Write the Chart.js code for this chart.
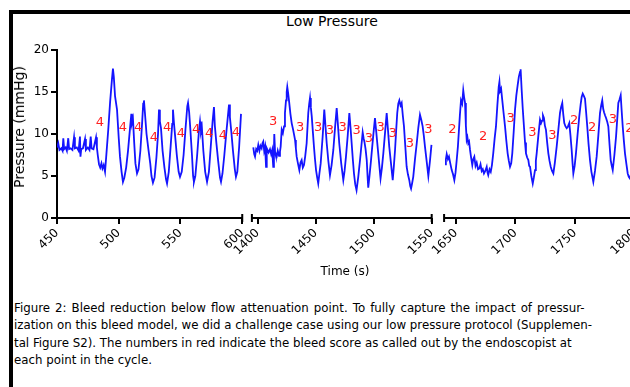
<!DOCTYPE html>
<html>
<head>
<meta charset="utf-8">
<script src="https://cdn.jsdelivr.net/npm/chart.js@4.4.0/dist/chart.umd.min.js"></script>
<style>
  html, body { margin: 0; padding: 0; background: #fff; }
  body { width: 630px; height: 387px; overflow: hidden; position: relative; font-family: "DejaVu Sans", sans-serif; color: #000; }
  #frame { position: absolute; left: 9px; top: 10px; width: 640px; height: 400px; border-top: 4px solid #000; border-left: 4px solid #000; }
  #title { position: absolute; left: 0; width: 664px; top: 13px; text-align: center; font-size: 14px; line-height: 16px; }
  #chartBox { position: absolute; left: 0; top: 0; }
  #yTitle { position: absolute; left: 19px; top: 127px; transform: translate(-50%, -50%) rotate(-90deg); font-size: 14px; line-height: 16px; white-space: nowrap; }
  #xTitle { position: absolute; left: 245px; width: 200px; top: 263px; text-align: center; font-size: 12px; line-height: 16px; }
  #caption { position: absolute; left: 14px; top: 300px; font-size: 11.8px; line-height: 17.3px; white-space: nowrap; }
  #caption span { display: block; }
  #caption .wide { word-spacing: 1.3px; }
</style>
</head>
<body>
<div id="frame"></div>
<div id="title">Low Pressure</div>
<div id="chartBox"><canvas id="chart" width="660" height="300"></canvas></div>
<div id="yTitle">Pressure (mmHg)</div>
<div id="xTitle">Time (s)</div>
<div id="caption"><span class="wide">Figure 2: Bleed reduction below flow attenuation point. To fully capture the impact of pressur-</span><span>ization on this bleed model, we did a challenge case using our low pressure protocol (Supplemen-</span><span>tal Figure S2). The numbers in red indicate the bleed score as called out by the endoscopist at</span><span>each point in the cycle.</span></div>

<script>
// pressure trace, [time (s), pressure (mmHg)], one list per axis segment
const seg1Trace = [
  [450, 8.4], [451, 8.9], [452, 8.1], [453.5, 8.3], [454.5, 8.0], [455.1, 9.5], [455.8, 8.2], [457, 8.4],
  [458, 8.0], [459.1, 9.5], [459.8, 8.2], [461, 8.3], [462.5, 8.1], [463.8, 9.6], [464.5, 8.3], [466, 8.4],
  [467.5, 8.0], [468.6, 9.7], [469, 7.3], [469.6, 8.2], [471, 8.3], [472.7, 9.4], [473.4, 8.1], [475, 8.4],
  [476.3, 8.1], [477.3, 9.7], [478, 8.3], [479.5, 8.2], [481.6, 9.6], [482.3, 8.4], [483, 7.5], [484, 6.4],
  [485, 6.0], [486, 6.5], [486.8, 5.9], [487.8, 6.3], [488.9, 5.5], [490, 7.6], [491.5, 10.5], [493, 13.8],
  [494.5, 16.5], [495.3, 17.8], [496, 16.8], [497, 14.5], [498.6, 12.9], [500, 9.5], [501, 7.3], [502.3, 5.5],
  [503.4, 4.3], [504.5, 4.8], [506, 6.0], [507.5, 8.0], [509, 10.5], [510.2, 12.4], [510.7, 11.3], [511.5, 11.8],
  [512.5, 9.0], [513.5, 6.5], [514.8, 5.3], [516, 5.8], [517.5, 8.0], [519, 11.5], [519.8, 13.6], [520.4, 14.0],
  [521.2, 12.5], [522.5, 10.0], [524, 8.2], [525.5, 6.5], [526.5, 5.0], [527.7, 4.2], [529, 4.8], [530.5, 7.2],
  [531.8, 10.0], [532.6, 12.9], [533.3, 11.5], [534.2, 10.7], [535.5, 8.0], [537, 6.0], [538.3, 4.6], [539.1, 4.1],
  [540.5, 5.5], [542, 8.5], [543.3, 11.2], [543.9, 12.9], [544.7, 11.3], [545.8, 9.5], [547, 7.5], [548.5, 5.5],
  [549.6, 4.9], [551, 5.5], [552.5, 7.5], [554, 10.5], [555.5, 13.3], [556.1, 13.7], [557, 12.6], [558, 10.5],
  [559.3, 7.5], [560.2, 5.0], [560.9, 4.3], [562, 5.0], [563.5, 7.5], [565, 10.5], [565.8, 11.5], [566.6, 10.3],
  [567.3, 10.8], [568.5, 8.0], [570, 5.5], [571.5, 4.3], [573, 5.5], [574.5, 8.5], [576, 11.5], [577.1, 13.2],
  [577.8, 11.0], [579, 9.0], [580.5, 6.8], [582, 4.8], [582.8, 4.3], [584, 5.3], [585.5, 7.5], [587, 10.0],
  [588.5, 12.3], [589.3, 13.5], [590, 12.0], [591.2, 10.2], [592.5, 8.0], [594, 5.8], [594.9, 4.9], [596, 5.5],
  [597.5, 8.5], [599, 12.4]
];

const seg2Trace = [
  [1396.2, 8.4], [1397, 7.6], [1397.7, 7.3], [1398.7, 8.2], [1399.6, 8.0], [1400.5, 8.7], [1401.5, 8.0], [1402.4, 8.6],
  [1403.4, 8.3], [1404.1, 8.9], [1404.8, 9.1], [1405.6, 8.0], [1406.4, 8.5], [1407.2, 6.1], [1407.8, 8.3], [1409.4, 7.8],
  [1410.6, 8.2], [1411.6, 7.6], [1412.5, 8.1], [1413.4, 6.1], [1414.0, 8.0], [1414.3, 10.0], [1415.0, 7.8], [1415.7, 7.4],
  [1416.4, 7.3], [1417.3, 8.0], [1418.4, 7.4], [1419.2, 7.9], [1419.8, 8.5], [1420.7, 10.5], [1421.7, 10.1], [1422.7, 10.9],
  [1423.5, 12.5], [1424.4, 14.0], [1425.0, 15.0], [1425.5, 15.6], [1426.3, 14.8], [1427.2, 13.7], [1428.2, 12.4], [1429.3, 11.3],
  [1430.7, 10.4], [1432.2, 9.3], [1432.9, 8.3], [1433.6, 7.3], [1434.7, 6.5], [1435.9, 5.7], [1436.9, 6.6], [1437.9, 6.9],
  [1438.9, 6.0], [1439.9, 6.3], [1441.0, 7.4], [1442.2, 8.9], [1443.0, 11.0], [1443.6, 12.5], [1444.4, 13.6], [1445.1, 14.3],
  [1445.8, 13.2], [1446.6, 12.1], [1447.6, 10.2], [1448.5, 8.5], [1449.4, 7.0], [1450.3, 5.7], [1451.3, 4.8], [1452.2, 4.1],
  [1453.2, 5.3], [1454.3, 6.5], [1455.1, 8.0], [1456.0, 9.7], [1456.8, 11.5], [1457.4, 12.9], [1458.4, 11.0], [1459.5, 8.9],
  [1460.9, 6.8], [1462.3, 5.1], [1463.7, 6.3], [1465.2, 8.1], [1466.7, 10.8], [1468.1, 13.1], [1469.1, 11.2], [1470.3, 8.9],
  [1472.0, 6.5], [1473.8, 4.5], [1474.9, 5.6], [1476.1, 7.3], [1477.6, 9.8], [1479.0, 12.5], [1480.0, 10.8], [1481.0, 8.9],
  [1482.0, 7.0], [1483.0, 5.3], [1484.1, 4.0], [1485.2, 3.3], [1486.7, 4.9], [1488.2, 6.9], [1489.4, 8.6], [1490.5, 10.2],
  [1491.3, 9.5], [1492.1, 9.0], [1493.0, 8.2], [1494.0, 6.9], [1494.7, 5.0], [1495.3, 3.6], [1496.5, 5.2], [1497.7, 6.9],
  [1499.4, 9.5], [1501.1, 11.9], [1502.1, 10.4], [1503.1, 8.9], [1504.5, 6.8], [1505.9, 4.7], [1507.1, 6.0], [1508.3, 7.7],
  [1509.8, 10.2], [1511.2, 12.5], [1512.3, 10.5], [1513.4, 8.5], [1514.9, 6.5], [1516.4, 4.5], [1517.4, 6.2], [1518.4, 8.1],
  [1519.4, 10.5], [1520.3, 12.5], [1521.2, 13.6], [1522.1, 14.0], [1523.1, 13.4], [1524.1, 13.7], [1525.1, 12.2], [1526.1, 10.9],
  [1527.3, 8.4], [1528.4, 6.1], [1529.5, 5.2], [1530.7, 4.5], [1531.5, 3.8], [1532.2, 3.5], [1533.2, 4.2], [1534.1, 4.9],
  [1535.6, 7.0], [1537.1, 8.9], [1538.5, 10.8], [1539.9, 12.3], [1541.0, 11.7], [1542.2, 10.9], [1543.2, 9.8], [1544.2, 8.5],
  [1545.7, 6.7], [1547.1, 5.0], [1548.5, 6.8], [1549.8, 8.7]
];

const seg3Trace = [
  [1640.8, 6.4], [1641.5, 7.0], [1642.2, 7.6], [1643.2, 7.0], [1644.1, 7.3], [1645.2, 6.5], [1646.4, 5.7], [1647.5, 5.2],
  [1648.6, 4.5], [1649.6, 5.4], [1650.6, 6.9], [1651.6, 8.5], [1652.5, 10.5], [1653.3, 12.3], [1654.2, 14.0], [1655.2, 13.6],
  [1656.1, 15.2], [1656.8, 14.4], [1657.6, 13.7], [1658.3, 11.0], [1659.0, 9.3], [1659.6, 9.6], [1660.3, 8.9], [1661.0, 9.1],
  [1661.8, 8.1], [1662.7, 7.2], [1663.7, 6.3], [1664.5, 7.0], [1665.4, 7.3], [1666.4, 6.2], [1667.4, 6.6], [1668.5, 5.8],
  [1669.6, 5.9], [1670.6, 6.4], [1671.6, 5.6], [1672.5, 5.8], [1673.5, 5.3], [1674.6, 5.6], [1675.8, 6.1], [1676.5, 5.4],
  [1677.1, 5.1], [1678.2, 5.8], [1679.2, 5.5], [1680.2, 6.3], [1681.3, 7.7], [1682.5, 9.5], [1683.6, 10.9], [1684.8, 13.5],
  [1685.9, 15.6], [1686.5, 16.2], [1687.0, 15.1], [1687.9, 15.4], [1688.9, 14.0], [1690.0, 12.5], [1691.2, 10.9], [1692.3, 9.2],
  [1693.4, 7.7], [1694.4, 6.8], [1695.4, 6.1], [1696.4, 6.5], [1697.3, 7.7], [1698.5, 10.3], [1699.6, 12.9], [1700.7, 14.6],
  [1701.8, 15.8], [1702.8, 16.8], [1703.8, 17.4], [1704.3, 17.7], [1705.2, 15.2], [1706.1, 13.0], [1707.1, 10.9], [1708.0, 9.0],
  [1708.8, 7.7], [1709.8, 7.2], [1710.8, 6.9], [1711.5, 6.2], [1712.2, 6.1], [1713.3, 5.0], [1714.5, 4.1], [1715.4, 4.8],
  [1716.4, 5.7], [1717.1, 6.8], [1717.8, 7.7], [1719.2, 9.8], [1720.6, 11.7], [1721.5, 11.3], [1722.3, 11.6], [1723.1, 12.2],
  [1723.9, 11.9], [1724.7, 11.0], [1725.6, 10.5], [1726.6, 9.0], [1727.6, 7.7], [1728.6, 6.8], [1729.6, 6.1], [1730.7, 5.6],
  [1731.8, 5.3], [1733.0, 6.5], [1734.6, 8.5], [1736.0, 10.5], [1737.4, 12.5], [1738.3, 13.2], [1739.3, 13.7], [1740.1, 12.4],
  [1741.0, 11.3], [1742.0, 10.9], [1743.0, 10.7], [1744.1, 10.9], [1745.2, 11.3], [1746.2, 9.8], [1747.2, 8.1], [1748.0, 6.4],
  [1748.6, 5.3], [1749.7, 6.2], [1750.8, 7.7], [1752.2, 10.0], [1753.6, 12.1], [1754.8, 13.6], [1755.6, 14.4], [1756.5, 14.8],
  [1757.5, 14.5], [1758.4, 14.2], [1759.4, 12.5], [1760.3, 10.9], [1761.4, 8.8], [1762.6, 6.9], [1763.8, 5.5], [1764.6, 4.9],
  [1765.4, 4.3], [1766.8, 5.6], [1768.2, 7.3], [1769.6, 9.8], [1771.0, 12.5], [1772.0, 13.4], [1772.9, 14.0], [1773.7, 13.0],
  [1774.4, 12.6], [1775.3, 12.2], [1776.1, 11.9], [1777.0, 11.5], [1778.0, 10.9], [1779.0, 8.8], [1780.0, 6.9], [1780.9, 6.2],
  [1781.7, 5.7], [1783.1, 7.5], [1784.5, 9.7], [1785.5, 11.8], [1786.4, 13.7], [1787.4, 14.1], [1788.4, 14.6], [1789.2, 12.8],
  [1790.1, 10.9], [1791.0, 9.3], [1792.0, 7.7], [1793.2, 6.4], [1794.3, 5.3], [1795.2, 4.9], [1796.2, 4.7], [1797.5, 5.5],
  [1798.7, 7.0]
];

// bleed scores called out by the endoscopist: [time, height on pressure axis, score]
const seg1Scores = [
  [484.8, 11.4, "4"], [503.4, 10.7, "4"], [515.6, 10.8, "4"], [528.5, 9.6, "4"], [539.1, 10.7, "4"],
  [550.4, 10.0, "4"], [562.6, 10.5, "4"], [573.1, 10.0, "4"], [584.4, 9.8, "4"], [594.9, 10.2, "4"]
];
const seg2Scores = [
  [1413.4, 11.5, "3"], [1436.5, 10.7, "3"], [1452.0, 10.7, "3"], [1462.3, 10.4, "3"], [1473.3, 10.8, "3"], [1485.3, 10.4, "3"],
  [1495.9, 9.4, "3"], [1506.0, 10.8, "3"], [1516.4, 10.0, "3"], [1531.3, 8.8, "3"], [1547.1, 10.5, "3"]
];
const seg3Scores = [
  [1646.9, 10.5, "2"], [1672.9, 9.7, "2"], [1696.0, 11.8, "3"], [1714.1, 10.2, "3"], [1730.9, 9.8, "3"],
  [1749.2, 11.6, "2"], [1764.5, 10.8, "2"], [1781.9, 11.7, "3"], [1795.6, 10.6, "2"]
];

// axis pieces and their tick labels
const seg1Range = [450, 600];
const seg2Range = [1395, 1550];
const seg3Range = [1640, 1800];
const seg1Ticks = [450, 500, 550, 600];
const seg2Ticks = [1400, 1450, 1500, 1550];
const seg3Ticks = [1650, 1700, 1750, 1800];
const yTicks = [0, 5, 10, 15, 20];

const segments = [
  { id: "x1", trace: seg1Trace, scores: seg1Scores, range: seg1Range, ticks: seg1Ticks, min: 450, max: 603.85, weight: 190, capStart: false },
  { id: "x2", trace: seg2Trace, scores: seg2Scores, range: seg2Range, ticks: seg2Ticks, min: 1390.78, max: 1555.69, weight: 191.3, capStart: true },
  { id: "x3", trace: seg3Trace, scores: seg3Scores, range: seg3Range, ticks: seg3Ticks, min: 1635.13, max: 1804.62, weight: 201.7, capStart: true }
];

const FONT = "DejaVu Sans";

const brokenAxis = {
  id: "brokenAxis",
  afterDraw(chart) {
    const ctx = chart.ctx;
    const y0 = chart.scales.y.getPixelForValue(0);
    ctx.save();
    ctx.strokeStyle = "#000";
    ctx.lineWidth = 2;
    segments.forEach((seg) => {
      const sc = chart.scales[seg.id];
      const a = seg.capStart ? sc.getPixelForValue(seg.range[0]) : chart.chartArea.left;
      const b = sc.getPixelForValue(seg.range[1]);
      ctx.beginPath();
      ctx.moveTo(a, y0);
      ctx.lineTo(b, y0);
      if (seg.capStart) {
        ctx.moveTo(a, y0 - 4);
        ctx.lineTo(a, y0 + 4);
      }
      ctx.moveTo(b, y0 - 4);
      ctx.lineTo(b, y0 + 4);
      ctx.stroke();
    });
    ctx.restore();
  },
  afterDatasetsDraw(chart) {
    const ctx = chart.ctx;
    const ys = chart.scales.y;
    ctx.save();
    ctx.fillStyle = "#ff2020";
    ctx.font = "13px '" + FONT + "'";
    ctx.textAlign = "center";
    ctx.textBaseline = "middle";
    segments.forEach((seg) => {
      const sc = chart.scales[seg.id];
      seg.scores.forEach(([t, v, s]) => {
        ctx.fillText(s, sc.getPixelForValue(t), ys.getPixelForValue(v));
      });
    });
    ctx.restore();
  }
};

const scales = {
  y: {
    position: "left",
    min: 0,
    max: 20,
    afterFit: (s) => { s.width = 57; },
    afterBuildTicks: (s) => { s.ticks = yTicks.map((v) => ({ value: v })); },
    border: { display: true, color: "#000", width: 2 },
    grid: { display: true, drawOnChartArea: false, color: "#000", lineWidth: 2, tickLength: 6 },
    ticks: { color: "#000", padding: 2, font: { family: FONT, size: 12 } }
  }
};

segments.forEach((seg) => {
  scales[seg.id] = {
    type: "linear",
    position: "bottom",
    stack: "time",
    stackWeight: seg.weight,
    min: seg.min,
    max: seg.max,
    afterFit: (s) => { s.height = 82; },
    afterBuildTicks: (s) => { s.ticks = seg.ticks.map((v) => ({ value: v })); },
    border: { display: false },
    grid: { display: true, drawOnChartArea: false, color: "#000", lineWidth: 2, tickLength: 6 },
    ticks: {
      color: "#000", padding: 2, minRotation: 45, maxRotation: 45, autoSkip: false,
      font: { family: FONT, size: 12 },
      callback: (v) => String(v)
    }
  };
});

new Chart(document.getElementById("chart"), {
  type: "line",
  data: {
    datasets: segments.map((seg) => ({
      data: seg.trace.map(([t, p]) => ({ x: t, y: p })),
      xAxisID: seg.id,
      yAxisID: "y",
      borderColor: "rgb(20,20,255)",
      borderWidth: 1.8,
      pointRadius: 0,
      tension: 0
    }))
  },
  options: {
    responsive: false,
    animation: false,
    layout: { padding: { top: 50, right: 20, bottom: 0, left: 0 } },
    plugins: { legend: { display: false }, tooltip: { enabled: false } },
    scales
  },
  plugins: [brokenAxis]
});
</script>
</body>
</html>
